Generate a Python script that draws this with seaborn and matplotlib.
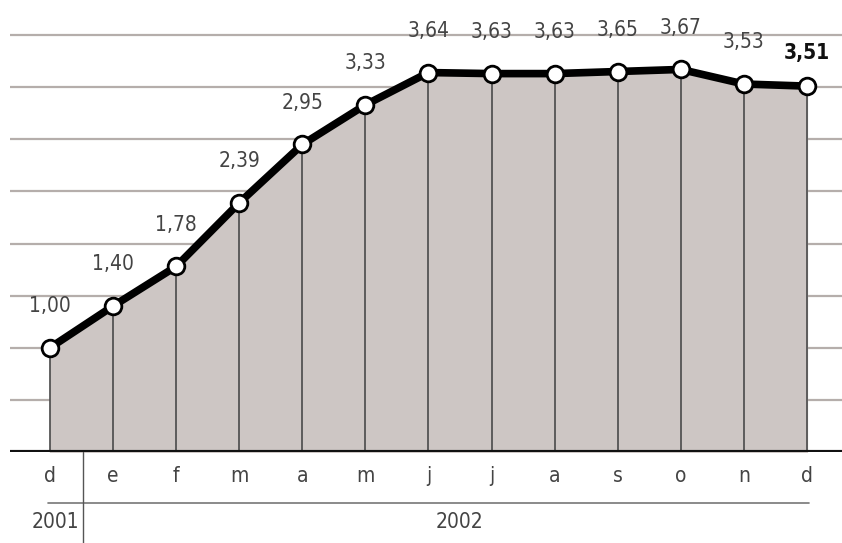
import matplotlib
matplotlib.use("Agg")
import matplotlib.pyplot as plt
from matplotlib import font_manager
import pandas as pd
import seaborn as sns

meses = ["d", "e", "f", "m", "a", "m", "j", "j", "a", "s", "o", "n", "d"]
valores = [1.00, 1.40, 1.78, 2.39, 2.95, 3.33, 3.64, 3.63, 3.63, 3.65, 3.67, 3.53, 3.51]
etiquetas = ["1,00", "1,40", "1,78", "2,39", "2,95", "3,33", "3,64", "3,63", "3,63",
             "3,65", "3,67", "3,53", "3,51"]
anios = ["2001", "2002"]
rejilla = [0.5, 1.0, 1.5, 2.0, 2.5, 3.0, 3.5, 4.0]


def main() -> None:
    df = pd.DataFrame({"pos": range(len(valores)), "valor": valores})

    sns.set_theme(style="white")
    nombres = {f.name for f in font_manager.fontManager.ttflist}
    if "Liberation Sans Narrow" in nombres:
        plt.rcParams["font.family"] = ["Liberation Sans Narrow", "DejaVu Sans"]
    else:
        plt.rcParams["font.family"] = ["DejaVu Sans"]
        plt.rcParams["font.stretch"] = "condensed"

    fig = plt.figure(figsize=(8.42, 5.43), dpi=100)
    ax = fig.add_axes([10 / 842, 91 / 543, 832 / 842, 452 / 543])

    gris_texto = "#444444"
    for y in rejilla:
        ax.axhline(y, color="#b5aeab", lw=1.6, zorder=0)

    ax.fill_between(df["pos"], 0, df["valor"], color="#cdc6c4", zorder=1)
    ax.vlines(df["pos"], 0, df["valor"], color="#4a4a4a", lw=1.2, zorder=2)
    ax.axhline(0, color="#111111", lw=3, zorder=3)

    sns.lineplot(data=df, x="pos", y="valor", ax=ax, color="black", lw=5.5,
                 marker="o", markersize=12, markerfacecolor="white",
                 markeredgecolor="black", markeredgewidth=2, zorder=4)

    for i, (v, t) in enumerate(zip(valores, etiquetas)):
        ultimo = i == len(valores) - 1
        ax.text(i, v + (0.32 if ultimo else 0.40), t, ha="center", va="center",
                fontsize=15, color="#111111" if ultimo else gris_texto,
                fontweight="bold" if ultimo else "light", zorder=5)

    ax.set_xlim(-0.634, 12.556)
    ax.set_ylim(0, 4.336)
    ax.set_xticks(range(len(meses)))
    ax.set_xticklabels(meses, fontsize=15, color=gris_texto)
    ax.tick_params(axis="x", length=0, pad=10)
    ax.set_yticks([])
    ax.set_xlabel("")
    ax.set_ylabel("")
    for s in ax.spines.values():
        s.set_visible(False)

    # separadores de año
    ax.plot([-0.03, 12.03], [-0.489, -0.489], color="#777777", lw=1.2, clip_on=False)
    ax.plot([0.523, 0.523], [0, -0.9], color="#555555", lw=1.0, clip_on=False)
    ax.text(0.08, -0.67, anios[0], ha="center", va="center", fontsize=15,
            color=gris_texto)
    ax.text(6.5, -0.67, anios[1], ha="center", va="center", fontsize=15,
            color=gris_texto)

    fig.savefig("out.png", dpi=100)


if __name__ == "__main__":
    main()
